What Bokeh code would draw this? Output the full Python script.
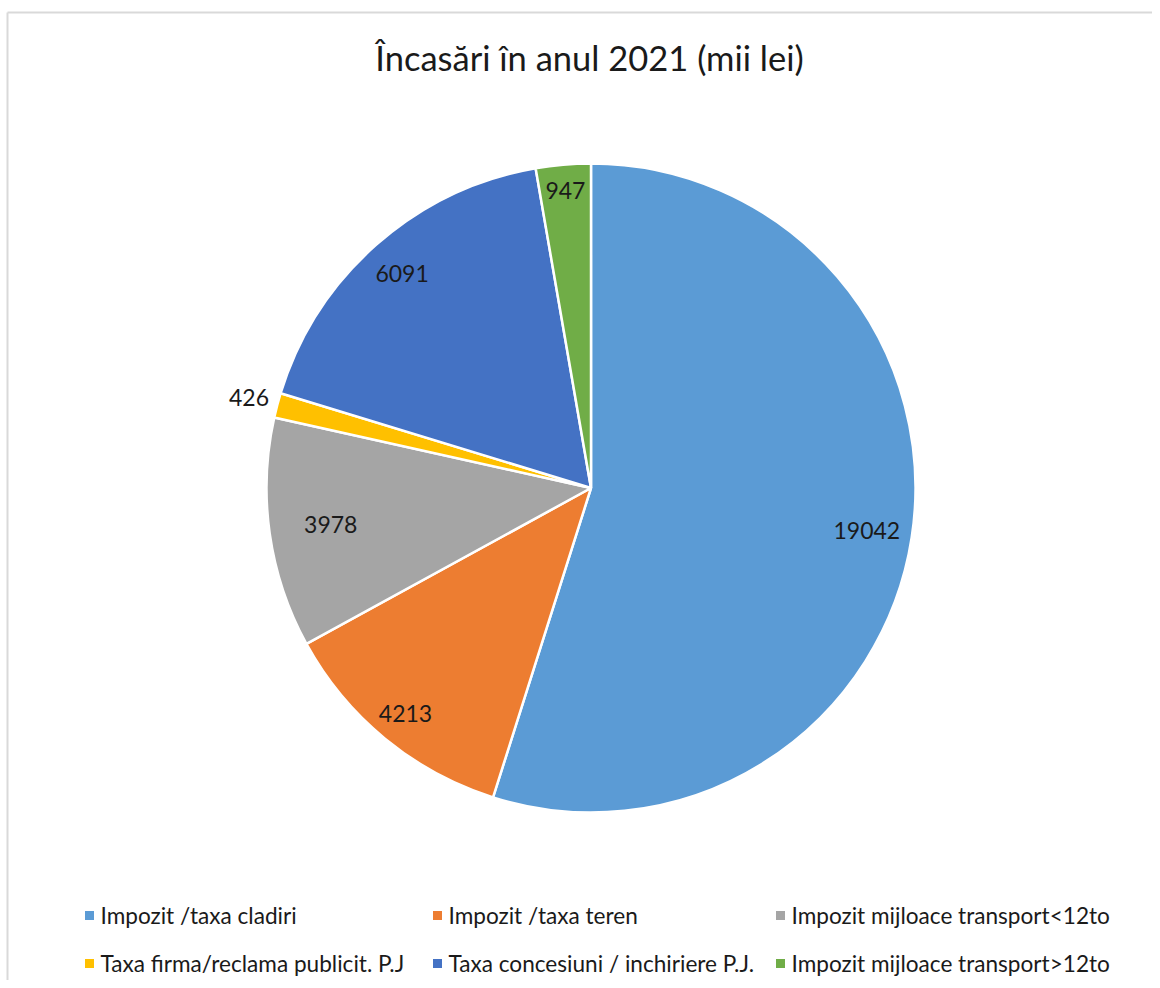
import numpy as np
from bokeh.plotting import figure
from bokeh.models import Range1d, ColumnDataSource
from bokeh.core.properties import value
from bokeh.embed import file_html
from bokeh.resources import INLINE

# ---- data ----
categories = [
    "Impozit /taxa cladiri",
    "Impozit /taxa teren",
    "Impozit mijloace transport<12to",
    "Taxa firma/reclama publicit. P.J",
    "Taxa concesiuni / inchiriere P.J.",
    "Impozit mijloace transport>12to",
]
amounts = [19042, 4213, 3978, 426, 6091, 947]
colors = ["#5B9BD5", "#ED7D31", "#A5A5A5", "#FFC000", "#4472C4", "#70AD47"]
title_text = "Încasări în anul 2021 (mii lei)"

# ---- layout (screen pixel coordinates, y measured downward) ----
W, H = 1152, 980
CX, CY, R = 590.5, 487.5, 324.5
label_rad = [0.86, 0.90, 0.81, 1.09, 0.88, 0.92]
legend_cols_x = [89, 437, 780]
legend_rows_y = [915, 963]
FONT = "Lato"

p = figure(width=W, height=H, output_backend="svg", toolbar_location=None,
           x_range=Range1d(0, W), y_range=Range1d(-H, 0),
           min_border=0, outline_line_color=None)
p.axis.visible = False
p.grid.visible = False
p.background_fill_color = "white"
p.border_fill_color = "white"

# chart frame (light grey)
p.segment(x0=[7, 7], y0=[-12, -12], x1=[7, 1170], y1=[-1000, -12],
          line_color="#D9D9D9", line_width=2)

vals = np.array(amounts, dtype=float)
frac = vals / vals.sum()
cum = np.concatenate([[0], np.cumsum(frac)])
start = np.pi / 2 - cum[:-1] * 2 * np.pi
end = np.pi / 2 - cum[1:] * 2 * np.pi
mid = (start + end) / 2

src = ColumnDataSource(dict(start=start, end=end, color=colors))
p.wedge(x=CX, y=-CY, radius=R, start_angle="start", end_angle="end",
        direction="clock", fill_color="color", line_color="white",
        line_width=2.5, source=src)

lx = CX + np.array(label_rad) * R * np.cos(mid)
ly = -CY + np.array(label_rad) * R * np.sin(mid)
p.text(x=lx, y=ly, text=[str(a) for a in amounts], text_align="center",
       text_baseline="middle", text_font=value(FONT), text_font_size="23px",
       text_color="#1a1a1a")

# title
p.text(x=[589], y=[-57], text=[title_text], text_align="center",
       text_baseline="middle", text_font=value(FONT),
       text_font_size="34.5px", text_color="#1a1a1a")

# legend
mx, my = [], []
for i in range(len(categories)):
    mx.append(legend_cols_x[i % 3])
    my.append(-legend_rows_y[i // 3])
p.scatter(x=mx, y=my, marker="square", size=9, fill_color=colors,
          line_color=None)
p.text(x=[x + 11 for x in mx], y=my, text=categories, text_align="left",
       text_baseline="middle", text_font=value(FONT), text_font_size="22.6px",
       text_color="#1a1a1a")

open("out.html", "w").write(file_html(p, INLINE))
